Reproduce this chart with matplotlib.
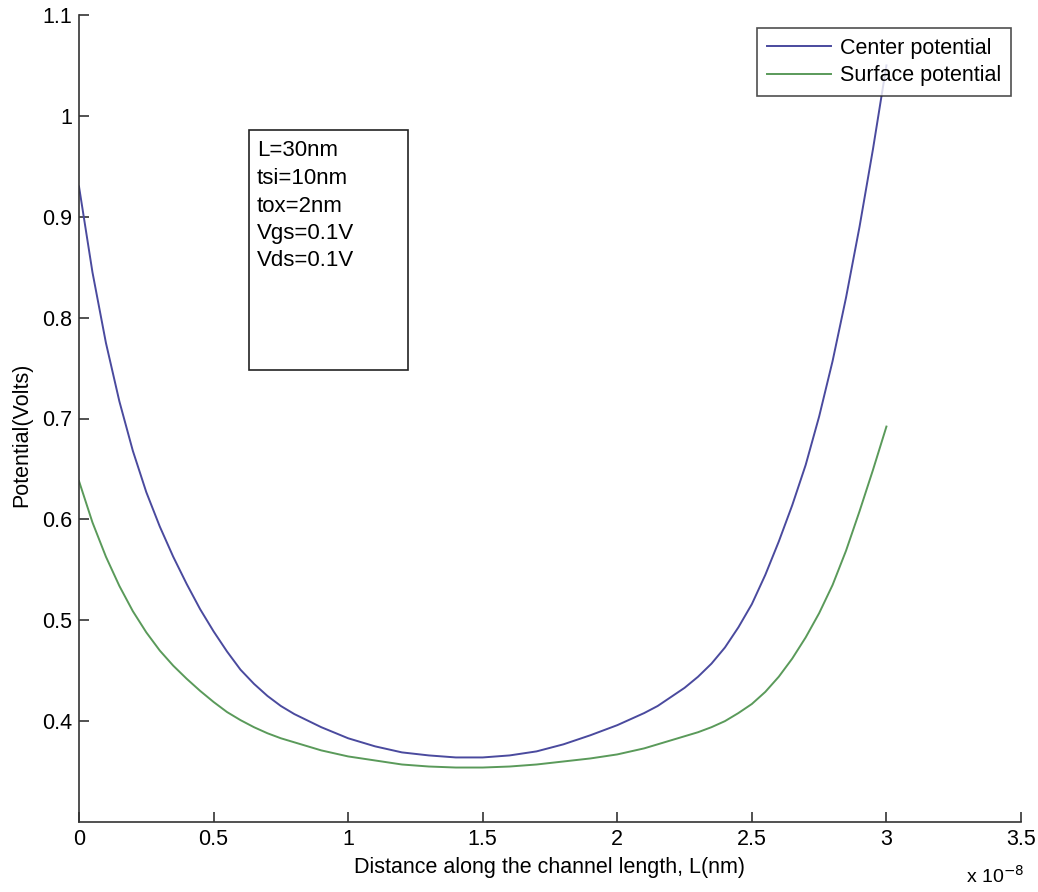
import matplotlib
matplotlib.use("Agg")
import matplotlib.pyplot as plt
from matplotlib.patches import Rectangle

plt.rcParams['font.family'] = ['Liberation Sans', 'DejaVu Sans']

# Distance along channel (units of 1e-8 m)
x_pos = [0.00, 0.05, 0.10, 0.15, 0.20, 0.25, 0.30, 0.35, 0.40, 0.45, 0.50, 0.55, 0.60,
         0.65, 0.70, 0.75, 0.80, 0.90, 1.00, 1.10, 1.20, 1.30, 1.40, 1.50, 1.60, 1.70,
         1.80, 1.90, 1.95, 2.00, 2.05, 2.10, 2.15, 2.20, 2.25, 2.30, 2.35, 2.40, 2.45,
         2.50, 2.55, 2.60, 2.65, 2.70, 2.75, 2.80, 2.85, 2.90, 2.95, 3.00]

center_potential = [0.930, 0.845, 0.775, 0.717, 0.668, 0.627, 0.593, 0.563, 0.536, 0.511, 0.489, 0.469, 0.451,
                    0.437, 0.425, 0.415, 0.407, 0.394, 0.383, 0.375, 0.369, 0.366, 0.364, 0.364, 0.366, 0.370,
                    0.377, 0.386, 0.391, 0.396, 0.402, 0.408, 0.415, 0.424, 0.433, 0.444, 0.457, 0.473, 0.493,
                    0.516, 0.545, 0.578, 0.614, 0.654, 0.702, 0.757, 0.820, 0.890, 0.967, 1.050]

surface_potential = [0.638, 0.597, 0.563, 0.534, 0.509, 0.488, 0.470, 0.455, 0.442, 0.430, 0.419, 0.409, 0.401,
                     0.394, 0.388, 0.383, 0.379, 0.371, 0.365, 0.361, 0.357, 0.355, 0.354, 0.354, 0.355, 0.357,
                     0.360, 0.363, 0.365, 0.367, 0.370, 0.373, 0.377, 0.381, 0.385, 0.389, 0.394, 0.400, 0.408,
                     0.417, 0.429, 0.444, 0.462, 0.483, 0.507, 0.535, 0.569, 0.608, 0.649, 0.692]

series_labels = ["Center potential", "Surface potential"]
x_ticks = [0, 0.5, 1, 1.5, 2, 2.5, 3, 3.5]
x_tick_labels = ["0", "0.5", "1", "1.5", "2", "2.5", "3", "3.5"]
y_ticks = [0.4, 0.5, 0.6, 0.7, 0.8, 0.9, 1.0, 1.1]
y_tick_labels = ["0.4", "0.5", "0.6", "0.7", "0.8", "0.9", "1", "1.1"]
param_lines = ["L=30nm", "tsi=10nm", "tox=2nm", "Vgs=0.1V", "Vds=0.1V"]

FS = 15.5

fig = plt.figure(figsize=(10.38, 8.92), dpi=100)
ax = fig.add_axes([79/1038, 1 - 822/892, (1021 - 79)/1038, (822 - 15)/892])

ax.plot(x_pos, center_potential, color='#4a4a9e', lw=1.4, label=series_labels[0])
ax.plot(x_pos, surface_potential, color='#5a9a5a', lw=1.4, label=series_labels[1])

ax.set_xlim(0, 3.5)
ax.set_ylim(0.3, 1.1)
ax.set_xticks(x_ticks)
ax.set_xticklabels(x_tick_labels)
ax.set_yticks(y_ticks)
ax.set_yticklabels(y_tick_labels)

for s in ['top', 'right']:
    ax.spines[s].set_visible(False)
for s in ['left', 'bottom']:
    ax.spines[s].set_color('#333333')
    ax.spines[s].set_linewidth(1.2)

ax.tick_params(direction='in', length=7, width=1.2, color='#333333',
               labelsize=FS, pad=5)

ax.set_xlabel("Distance along the channel length, L(nm)", fontsize=FS, labelpad=5)
ax.set_ylabel("Potential(Volts)", fontsize=FS)
ax.yaxis.set_label_coords(-0.05, 0.48)

fig.text(966/1038, 1 - 876/892, r"x 10$^{-8}$", fontsize=14, va='center', ha='left')

leg = ax.legend(loc='upper right', fontsize=FS, frameon=True, fancybox=False,
                handlelength=3.0, handletextpad=0.4, borderpad=0.45, labelspacing=0.3,
                borderaxespad=0.0)
leg.set_bbox_to_anchor((1011/1038, 1 - 28/892), transform=fig.transFigure)
leg.get_frame().set_edgecolor('#222222')
leg.get_frame().set_linewidth(1.2)
leg.set_zorder(5)

# parameter box
bx0, bx1 = 249/1038, 408/1038
by0, by1 = 1 - 370/892, 1 - 130/892
rect = Rectangle((bx0, by0), bx1 - bx0, by1 - by0, transform=fig.transFigure,
                 facecolor='white', edgecolor='#222222', lw=1.2, zorder=4)
fig.patches.append(rect)
for i, line in enumerate(param_lines):
    fig.text(257/1038, 1 - (151 + i * 27.5)/892, line, fontsize=16,
             va='center', ha='left', zorder=5)

fig.savefig("out.png", dpi=100)
